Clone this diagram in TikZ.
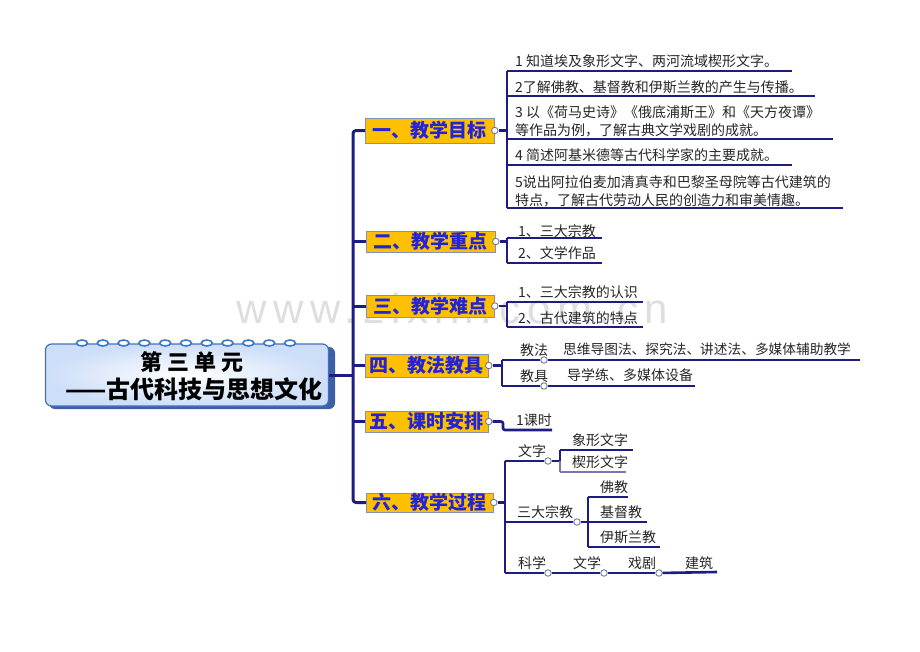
\documentclass[tikz,border=0pt]{standalone}
\usepackage{fontspec}
\newfontfamily\cjk{Noto Sans CJK SC}
\newfontfamily\wmfont[LetterSpace=16]{Liberation Sans}
\definecolor{linecol}{RGB}{28,28,130}
\definecolor{boxfill}{RGB}{255,192,0}
\definecolor{boxtext}{RGB}{35,35,215}
\definecolor{boxedge}{RGB}{130,145,185}
\definecolor{dotedge}{RGB}{110,120,160}
\definecolor{rootedge}{RGB}{70,110,190}
\definecolor{rootshade}{RGB}{60,95,165}
\definecolor{rootglow}{RGB}{205,222,248}
\definecolor{ringcol}{RGB}{60,120,200}
\definecolor{wmcol}{RGB}{222,222,222}
\begin{document}
\begin{tikzpicture}[x=1pt,y=-1pt,
  conn/.style={draw=linecol, line width=2.6pt, line join=round},
  trunkline/.style={draw=linecol, line width=3pt, line join=round},
  thinconn/.style={draw=linecol!60, line width=1.3pt},
  topic/.style={fill=boxfill, draw=boxedge, line width=0.8pt, text=boxtext,
    font=\cjk\bfseries\fontsize{19}{19}\selectfont, inner sep=0pt, anchor=west},
  lab/.style={font=\cjk\fontsize{14}{14}\selectfont, text=black!85, inner sep=0pt, anchor=base west},
  dot/.style={circle, draw=dotedge, fill=white, line width=0.9pt, inner sep=0pt, minimum size=6.5pt},
  rootbox/.style={draw=rootedge, line width=1.2pt, rounded corners=6pt, inner sep=0pt,
    shading=radial, inner color=white, outer color=rootglow},
  ring/.style={draw=ringcol, line width=1.6pt, fill=white}
]
\useasboundingbox (0,0) rectangle (920,651);

% watermark
\node[font=\wmfont\fontsize{42}{42}\selectfont, text=wmcol, inner sep=0pt, anchor=base west] (wm) at (236,323) {www.zixin.com.cn};

% root
\fill[rootshade, rounded corners=6pt] (49,347) rectangle (335,409);
\node[rootbox, minimum width=283pt, minimum height=62pt] (root) at (187,375) {};
\foreach \k in {0,...,10} {
  \draw[ring] (82+\k*20.8,343) ellipse (5.5 and 3);
}
\node[font=\cjk\bfseries\fontsize{22}{22}\selectfont, inner sep=0pt] (rt1) at (192,362) {第 三 单 元};
\node[font=\cjk\bfseries\fontsize{24}{24}\selectfont, inner sep=0pt] (rt2) at (194,389) {——古代科技与思想文化};

% topic boxes
\node[topic, minimum width=129pt, minimum height=25pt] (t1) at (365,130.5) {一、教学目标};
\node[topic, minimum width=129pt, minimum height=21pt] (t2) at (366,241.5) {二、教学重点};
\node[topic, minimum width=128pt, minimum height=22pt] (t3) at (366,306) {三、教学难点};
\node[topic, minimum width=123pt, minimum height=23pt] (t4) at (365,365.5) {四、教法教具};
\node[topic, minimum width=123pt, minimum height=21pt] (t5) at (365,421.5) {五、课时安排};
\node[topic, minimum width=127pt, minimum height=19pt] (t6) at (366,502.5) {六、教学过程};

% trunk
\coordinate (trunk) at (353,0);
\draw[trunkline, rounded corners=3pt] (t1.west) -- (t1.west -| trunk) -- (t6.west -| trunk) -- (t6.west);
\foreach \i in {2,3,4,5} { \draw[trunkline] (t\i.west -| trunk) -- (t\i.west); }
\draw[trunkline] (root.east) -- (root.east -| trunk);

% dots on topics
\foreach \i in {1,...,6} { \node[dot] (d\i) at (t\i.east) {}; }

% ---- branch 1
\coordinate (v1t) at (507,71);
\coordinate (v1b) at (507,208);
\draw[conn] (d1.east) -- (d1.east -| v1t);
\draw[conn] (v1t) -- (v1b);
\coordinate (e11) at (792,71);
\coordinate (e12) at (815,96);
\coordinate (e13) at (833,139);
\coordinate (e14) at (792,165);
\coordinate (e15) at (843,208);
\foreach \i in {11,...,15} { \draw[conn] (e\i -| v1t) -- (e\i); }
\node[lab] (c11) at (515,66.3) {1 知道埃及象形文字、两河流域楔形文字。};
\node[lab] (c12) at (515,92) {2了解佛教、基督教和伊斯兰教的产生与传播。};
\node[lab] (c13a) at (515,117) {3 以《荷马史诗》《俄底浦斯王》和《天方夜谭》};
\node[lab] (c13b) at (515,135.3) {等作品为例，了解古典文学戏剧的成就。};
\node[lab] (c14) at (515,160.3) {4 简述阿基米德等古代科学家的主要成就。};
\node[lab] (c15a) at (515,187) {5说出阿拉伯麦加清真寺和巴黎圣母院等古代建筑的};
\node[lab] (c15b) at (515,205.3) {特点，了解古代劳动人民的创造力和审美情趣。};

% ---- branch 2
\coordinate (v2t) at (507,238);
\coordinate (v2b) at (507,263);
\draw[conn] (d2.east) -- (d2.east -| v2t);
\draw[conn] (v2t) -- (v2b);
\coordinate (e21) at (602,238);
\coordinate (e22) at (602,263);
\draw[conn] (v2t) -- (e21);
\draw[conn] (v2b) -- (e22);
\node[lab] (c21) at (518,236) {1、三大宗教};
\node[lab] (c22) at (518,258.6) {2、文学作品};

% ---- branch 3
\coordinate (v3t) at (507,302);
\coordinate (v3b) at (507,327);
\draw[conn] (d3.east) -- (d3.east -| v3t);
\draw[conn] (v3t) -- (v3b);
\coordinate (e31) at (643,302);
\coordinate (e32) at (643,327);
\draw[conn] (v3t) -- (e31);
\draw[conn] (v3b) -- (e32);
\node[lab] (c31) at (518,297) {1、三大宗教的认识};
\node[lab] (c32) at (518,323.6) {2、古代建筑的特点};

% ---- branch 4
\coordinate (v4t) at (502,360);
\coordinate (v4b) at (502,386);
\draw[conn] (d4.east) -- (d4.east -| v4t);
\draw[conn] (v4t) -- (v4b);
\node[dot] (d41) at (544,360) {};
\node[dot] (d42) at (544,386) {};
\coordinate (e41) at (860,360);
\coordinate (e42) at (695,386);
\draw[conn] (v4t) -- (d41);
\draw[conn] (d41) -- (e41);
\draw[conn] (v4b) -- (d42);
\draw[conn] (d42) -- (e42);
\node[lab] (c41) at (520,355.5) {教法};
\node[lab, font=\cjk\fontsize{13.7}{14}\selectfont] (c41b) at (563,354.5) {思维导图法、探究法、讲述法、多媒体辅助教学};
\node[lab] (c42) at (520,381.5) {教具};
\node[lab] (c42b) at (567,380.5) {导学练、多媒体设备};

% ---- branch 5
\coordinate (v5) at (503,430);
\coordinate (e51) at (552,430);
\draw[conn, rounded corners=2pt] (d5.east) -- (d5.east -| v5) -- (v5) -- (e51);
\node[lab] (c51) at (516,425.5) {1课时};

% ---- branch 6
\coordinate (v6t) at (505,461);
\coordinate (v6m) at (505,522);
\coordinate (v6b) at (505,573);
\draw[conn] (d6.east) -- (d6.east -| v6t);
\draw[conn] (v6t) -- (v6b);
% 文字
\node[dot] (d61) at (548,461) {};
\draw[conn] (v6t) -- (d61);
\coordinate (w1) at (560,461);
\coordinate (w1t) at (560,450);
\coordinate (w1b) at (560,472);
\coordinate (e611) at (633,450);
\coordinate (e612) at (626,472);
\draw[conn] (d61) -- (w1);
\draw[conn] (w1) -- (w1t);
\draw[thinconn] (w1) -- (w1b);
\draw[conn] (w1t) -- (e611);
\draw[thinconn] (w1b) -- (e612);
\node[lab] (c61) at (518,456.5) {文字};
\node[lab] (c611) at (572,445.5) {象形文字};
\node[lab] (c612) at (572,467.5) {楔形文字};
% 三大宗教
\node[dot] (d62) at (577,522) {};
\draw[conn] (v6m) -- (d62);
\coordinate (w2) at (588,522);
\coordinate (w2t) at (588,497);
\coordinate (w2b) at (588,547);
\coordinate (e621) at (628,497);
\coordinate (e622) at (647,522);
\coordinate (e623) at (660,547);
\draw[conn] (d62) -- (w2);
\draw[conn] (w2t) -- (w2b);
\draw[conn] (w2t) -- (e621);
\draw[conn] (w2) -- (e622);
\draw[conn] (w2b) -- (e623);
\node[lab] (c62) at (517,517.5) {三大宗教};
\node[lab] (c621) at (600,492.5) {佛教};
\node[lab] (c622) at (600,517.5) {基督教};
\node[lab] (c623) at (600,542.5) {伊斯兰教};
% chain
\node[dot] (d63) at (548,573) {};
\node[dot] (d64) at (604,573) {};
\node[dot] (d65) at (659,573) {};
\coordinate (e66) at (717,572);
\draw[conn] (v6b) -- (d63);
\draw[conn] (d63) -- (d64);
\draw[conn] (d64) -- (d65);
\draw[conn] (d65) -- (e66);
\node[lab] (c63) at (518,568.5) {科学};
\node[lab] (c64) at (573,568.5) {文学};
\node[lab] (c65) at (628,568.5) {戏剧};
\node[lab] (c66) at (685,568.5) {建筑};
\end{tikzpicture}
\end{document}
